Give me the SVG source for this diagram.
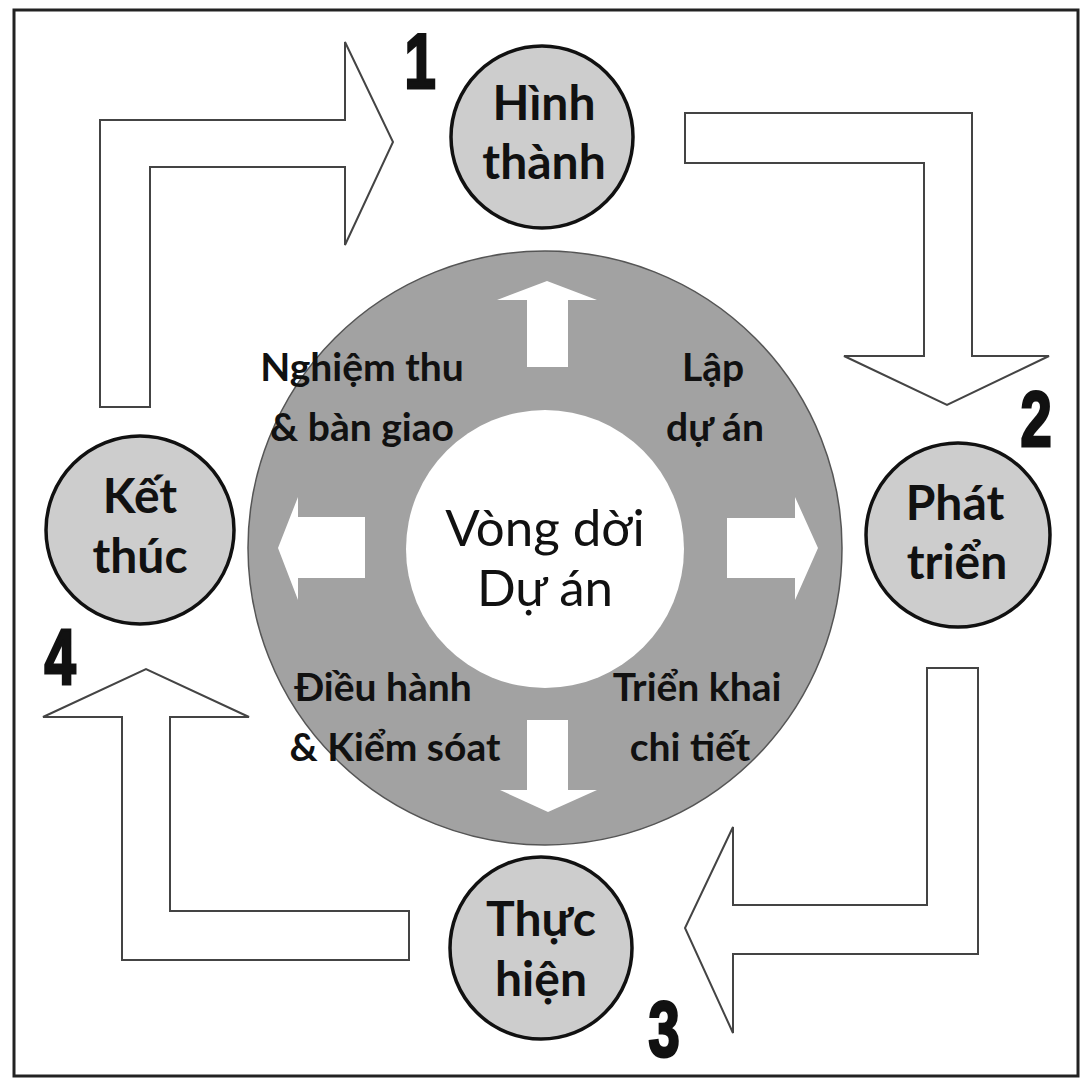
<svg xmlns="http://www.w3.org/2000/svg" width="1088" height="1080" viewBox="0 0 1088 1080">
<style>
.frame{fill:#fff;stroke:#222;stroke-width:3}
.blk{fill:#fff;stroke:#444;stroke-width:2;stroke-linejoin:miter}
.inarr{fill:#fff;stroke:none}
.node{fill:#cdcdcd;stroke:#111;stroke-width:3.5}
.ntxt{font-family:Lato,"Open Sans","DejaVu Sans",sans-serif;font-weight:bold;font-size:48px;fill:#111;text-anchor:middle}
.rtxt{font-family:Lato,"Open Sans","DejaVu Sans",sans-serif;font-weight:bold;font-size:39px;fill:#111;text-anchor:middle}
.ctxt{font-family:Lato,"Open Sans","DejaVu Sans",sans-serif;font-size:51px;fill:#111;text-anchor:middle}
.num{font-family:"Liberation Sans","DejaVu Sans",sans-serif;font-weight:bold;font-size:78px;fill:#111;stroke:#111;stroke-width:3;text-anchor:middle}
</style>
<rect class="frame" x="14" y="10" width="1064" height="1066"/>

<g id="connectors">
  <polygon class="blk" points="100,407 150,407 150,167 345,167 345,245 393,142 345,42 345,120 100,120"/>
  <polygon class="blk" points="685,113 972,113 972,356 1049,356 947,405 844,356 924,356 924,163 685,163"/>
  <polygon class="blk" points="927,668 978,668 978,954 733,954 733,1033 685,928 733,827 733,905 927,905"/>
  <polygon class="blk" points="409,911 409,960 122,960 122,717 43,717 146,669 249,717 170,717 170,911"/>
</g>

<g id="cycle">
  <circle cx="545" cy="548" r="297" fill="#a2a2a2" stroke="#555" stroke-width="1.5"/>
  <circle cx="545" cy="549" r="139" fill="#fff"/>
  <polygon class="inarr" points="527,367 568,367 568,300 597,300 547,281 497,300 527,300"/>
  <polygon class="inarr" points="527,720 568,720 568,790 597,790 548,812 500,790 527,790"/>
  <polygon class="inarr" points="365,517 365,578 298,578 298,600 278,548 298,497 298,517"/>
  <polygon class="inarr" points="727,518 727,578 795,578 795,600 818,548 795,497 795,518"/>
  <text class="rtxt" x="362" y="381">Nghiệm thu</text>
  <text class="rtxt" x="362" y="441">&amp; bàn giao</text>
  <text class="rtxt" x="713" y="381">Lập</text>
  <text class="rtxt" x="715" y="441">dự án</text>
  <text class="rtxt" x="383" y="701">Điều hành</text>
  <text class="rtxt" x="395" y="761">&amp; Kiểm sóat</text>
  <text class="rtxt" x="697" y="701">Triển khai</text>
  <text class="rtxt" x="690" y="761">chi tiết</text>
</g>

<g id="center">
  <text class="ctxt" x="545" y="546">Vòng dời</text>
  <text class="ctxt" x="545" y="606">Dự án</text>
</g>

<g id="node1">
  <circle class="node" cx="542" cy="137" r="91"/>
  <text class="ntxt" x="544" y="120">Hình</text>
  <text class="ntxt" x="544" y="179">thành</text>
  <text class="num" transform="translate(420,88) scale(0.72,1)" x="0" y="0">1</text>
</g>
<g id="node2">
  <circle class="node" cx="958" cy="535" r="92"/>
  <text class="ntxt" x="955" y="520">Phát</text>
  <text class="ntxt" x="957" y="579">triển</text>
  <text class="num" transform="translate(1036,446) scale(0.72,1)" x="0" y="0">2</text>
</g>
<g id="node3">
  <circle class="node" cx="541" cy="948" r="91"/>
  <text class="ntxt" x="541" y="936">Thực</text>
  <text class="ntxt" x="541" y="996">hiện</text>
  <text class="num" transform="translate(664,1056) scale(0.72,1)" x="0" y="0">3</text>
</g>
<g id="node4">
  <circle class="node" cx="140" cy="530" r="94"/>
  <text class="ntxt" x="140" y="513">Kết</text>
  <text class="ntxt" x="140" y="573">thúc</text>
  <text class="num" transform="translate(60,684) scale(0.72,1)" x="0" y="0">4</text>
</g>
</svg>
